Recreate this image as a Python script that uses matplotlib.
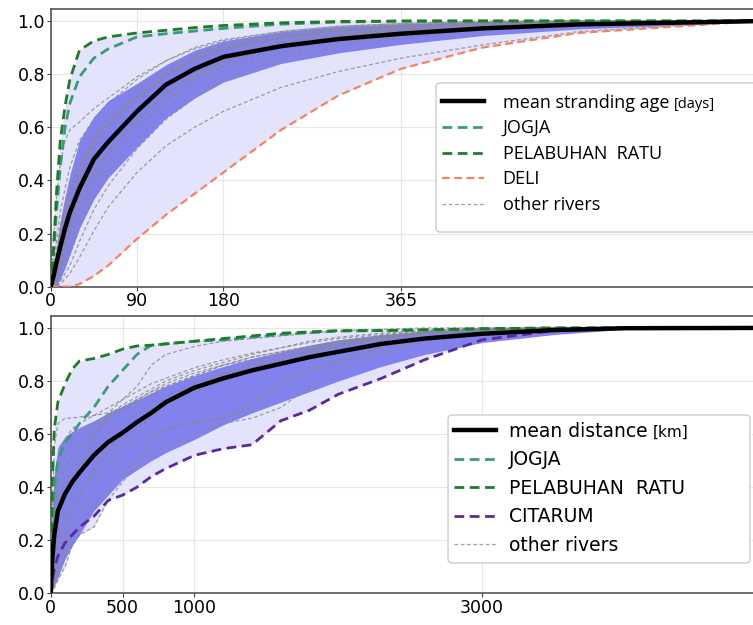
import numpy as np
import matplotlib.pyplot as plt
from matplotlib.patches import FancyBboxPatch

# ---- top panel: cumulative fraction vs stranding age [days]
days = [0, 3, 6, 10, 15, 20, 30, 45, 60, 90, 120, 150, 180, 240, 300, 365, 450, 550, 730]
age_mean = [0, .04, .09, .15, .22, .28, .37, .48, .545, .66, .76, .82, .865, .905, .932, .952, .972, .987, .999]
age_upper = [0, .07, .15, .25, .34, .42, .55, .64, .70, .765, .835, .89, .925, .96, .98, .99, .997, 1, 1]
age_lower = [0, 0, 0, .03, .07, .12, .22, .33, .41, .525, .635, .71, .77, .84, .88, .912, .945, .97, .995]
age_jogja = [0, .12, .28, .45, .60, .69, .79, .86, .895, .94, .952, .962, .972, .988, .996, .999, 1, 1, 1]
age_pelabuhan = [0, .15, .35, .55, .68, .78, .89, .925, .94, .955, .965, .975, .983, .993, .998, 1, 1, 1, 1]
age_deli = [0, 0, 0, 0, 0, 0, .01, .04, .08, .18, .27, .35, .43, .59, .72, .82, .90, .955, .998]
age_others = [
    [0, .18, .34, .46, .55, .59, .62, .67, .71, .79, .85, .895, .925, .96, .98, .99, 1, 1, 1],
    [0, .09, .17, .28, .37, .45, .55, .63, .69, .78, .85, .90, .93, .96, .98, .99, .997, 1, 1],
    [0, .06, .12, .20, .28, .35, .46, .57, .64, .74, .82, .87, .91, .95, .97, .985, .995, 1, 1],
    [0, .05, .10, .16, .23, .30, .40, .52, .60, .70, .79, .85, .89, .935, .96, .975, .99, .997, 1],
    [0, .03, .07, .13, .20, .26, .36, .47, .55, .67, .76, .82, .87, .92, .95, .97, .985, .995, 1],
    [0, .02, .05, .10, .16, .22, .32, .43, .51, .63, .73, .80, .85, .91, .94, .96, .98, .993, 1],
    [0, .01, .02, .06, .11, .16, .26, .38, .47, .60, .70, .78, .83, .90, .935, .955, .975, .99, 1],
    [0, 0, .01, .04, .08, .12, .22, .34, .43, .56, .67, .75, .81, .88, .92, .945, .97, .988, 1],
    [0, 0, 0, .02, .05, .08, .17, .29, .38, .52, .63, .71, .78, .86, .905, .935, .965, .985, 1],
    [0, 0, 0, .01, .03, .05, .11, .21, .30, .43, .53, .60, .66, .75, .81, .86, .91, .96, 1],
    [0, .02, .05, .11, .18, .24, .34, .46, .54, .66, .75, .81, .86, .915, .945, .965, .98, .992, 1],
    [0, .05, .10, .18, .26, .33, .43, .54, .61, .71, .80, .86, .90, .94, .965, .98, .993, 1, 1],
    [0, .02, .04, .08, .14, .19, .29, .41, .50, .62, .72, .79, .845, .905, .94, .96, .98, .993, 1],
    [0, .07, .13, .22, .30, .36, .45, .55, .62, .72, .80, .855, .895, .94, .965, .98, .993, 1, 1],
]

# ---- bottom panel: cumulative fraction vs distance [km]
km = [0, 10, 25, 50, 100, 150, 200, 300, 400, 500, 600, 700, 800, 1000, 1200, 1400, 1600, 1800, 2000, 2300, 2600, 3000, 3500, 4000, 4900]
dist_mean = [0, .12, .22, .31, .375, .42, .455, .52, .57, .605, .645, .68, .72, .775, .81, .84, .865, .89, .91, .94, .96, .978, .992, .999, 1]
dist_upper = [0, .30, .45, .55, .59, .61, .625, .65, .68, .705, .73, .755, .78, .82, .855, .885, .91, .935, .955, .975, .988, .996, 1, 1, 1]
dist_lower = [0, .01, .03, .06, .13, .18, .22, .31, .37, .43, .465, .50, .53, .58, .635, .68, .72, .76, .80, .855, .90, .945, .975, .995, 1]
dist_jogja = [0, .20, .40, .50, .57, .60, .64, .70, .78, .84, .90, .935, .94, .95, .955, .965, .975, .982, .988, .99, .993, .997, 1, 1, 1]
dist_pelabuhan = [0, .40, .62, .72, .79, .845, .875, .885, .90, .92, .932, .935, .94, .95, .96, .97, .98, .985, .99, .99, .993, .997, 1, 1, 1]
dist_citarum = [0, .04, .09, .14, .19, .22, .25, .29, .35, .37, .40, .44, .47, .52, .545, .56, .65, .69, .75, .81, .88, .955, .99, 1, 1]
dist_others = [
    [0, .30, .55, .64, .66, .66, .665, .67, .68, .70, .73, .76, .78, .82, .86, .89, .91, .93, .95, .97, .985, .995, 1, 1, 1],
    [0, .15, .35, .50, .58, .62, .64, .67, .70, .73, .76, .79, .81, .85, .88, .905, .925, .945, .96, .975, .99, .997, 1, 1, 1],
    [0, .10, .25, .38, .47, .52, .56, .62, .66, .70, .73, .76, .79, .83, .86, .89, .91, .93, .95, .97, .985, .995, 1, 1, 1],
    [0, .05, .15, .28, .38, .44, .48, .55, .60, .64, .68, .71, .74, .79, .83, .86, .89, .915, .94, .965, .98, .995, 1, 1, 1],
    [0, .02, .06, .12, .22, .30, .36, .46, .53, .58, .62, .66, .70, .76, .80, .84, .87, .90, .93, .955, .975, .99, 1, 1, 1],
    [0, .01, .03, .06, .14, .22, .24, .33, .40, .46, .50, .53, .55, .60, .64, .66, .70, .78, .84, .90, .95, .985, .998, 1, 1],
    [0, 0, .02, .05, .10, .18, .22, .25, .35, .42, .48, .58, .62, .65, .66, .72, .80, .85, .88, .93, .96, .985, .997, 1, 1],
    [0, .08, .20, .33, .42, .48, .53, .60, .65, .69, .72, .75, .78, .82, .86, .88, .90, .92, .94, .965, .985, .995, 1, 1, 1],
    [0, .05, .12, .20, .30, .37, .45, .58, .68, .73, .78, .86, .90, .93, .95, .96, .97, .98, .99, .995, 1, 1, 1, 1, 1],
    [0, .03, .08, .16, .26, .33, .38, .47, .55, .60, .65, .69, .72, .78, .82, .85, .88, .91, .935, .96, .98, .993, 1, 1, 1],
    [0, .12, .28, .42, .52, .57, .60, .64, .67, .71, .74, .77, .80, .84, .87, .90, .925, .95, .965, .98, .99, .998, 1, 1, 1],
    [0, .01, .04, .09, .17, .25, .30, .40, .48, .55, .58, .60, .62, .64, .66, .70, .78, .83, .87, .92, .96, .99, 1, 1, 1],
]

c_jogja = '#3a9a7a'
c_pel = '#1f7a2a'
c_deli = '#f4845f'
c_cit = '#5b2a9a'


def draw_panel(ax, x, mean, upper, lower, named, others, mean_label, xticks, xmax,
               legend_anchor, font, fsize, lspace, hlen, hpad, frame):
    allc = np.array([c for _, c, _ in named] + others)
    ax.fill_between(x, allc.min(axis=0), allc.max(axis=0), color='#e3e3fb', lw=0, zorder=1)
    ax.fill_between(x, lower, upper, color='#8282ef', lw=0, zorder=2)
    for i, o in enumerate(others):
        ax.plot(x, o, ls=(0, (3, 2)), color='#888888', lw=0.9, alpha=0.8, zorder=3,
                label='other rivers' if i == 0 else None)
    ax.plot(x, mean, color='black', lw=3.2, zorder=6, label=mean_label)
    for name, vals, col in named:
        lw = 1.6 if col == c_deli else 2.0
        ax.plot(x, vals, ls=(0, (3.5, 2)), color=col, lw=lw, zorder=5, label=name)

    handles, labels = ax.get_legend_handles_labels()
    order = [1] + list(range(2, len(labels))) + [0]
    leg = ax.legend([handles[i] for i in order], [labels[i] for i in order],
                    loc='upper left', bbox_to_anchor=legend_anchor, borderaxespad=0,
                    prop={'family': font, 'size': fsize}, labelspacing=lspace,
                    handlelength=hlen, handletextpad=hpad, borderpad=0, frameon=False)
    leg.set_zorder(11)

    # legend frame drawn by hand (the top one runs past the right edge)
    box = FancyBboxPatch(frame[:2], frame[2], frame[3], boxstyle='round,pad=0,rounding_size=0.006',
                         transform=ax.figure.transFigure, facecolor='white',
                         edgecolor='#cccccc', lw=1, zorder=10, clip_on=False)
    ax.add_patch(box)

    ax.set_xlim(0, xmax)
    ax.set_ylim(0, 1.045)
    ax.set_xticks(xticks)
    ax.set_yticks([0, 0.2, 0.4, 0.6, 0.8, 1.0])
    ax.set_yticklabels(['0.0', '0.2', '0.4', '0.6', '0.8', '1.0'])
    ax.tick_params(labelsize=12.5, length=3, color='#444444', pad=1)
    ax.grid(color='#e6e6e6', lw=0.8)
    ax.set_axisbelow(True)
    for s in ax.spines.values():
        s.set_color('#555555')
        s.set_linewidth(1.2)
    return leg


fig = plt.figure(figsize=(7.53, 6.25), dpi=100)
ax1 = fig.add_axes([0.0673, 0.5413, 0.9357, 0.4443])
ax2 = fig.add_axes([0.0673, 0.0507, 0.9357, 0.4437])

leg1 = draw_panel(ax1, days, age_mean, age_upper, age_lower,
                  [('JOGJA', age_jogja, c_jogja), ('PELABUHAN  RATU', age_pelabuhan, c_pel), ('DELI', age_deli, c_deli)],
                  age_others, 'mean stranding age', [0, 90, 180, 365], 734,
                  (0.5557, 0.695), 'Open Sans', 13, 0.42, 2.3, 1.05,
                  (0.579, 0.6288, 0.44, 0.2384))
leg2 = draw_panel(ax2, km, dist_mean, dist_upper, dist_lower,
                  [('JOGJA', dist_jogja, c_jogja), ('PELABUHAN  RATU', dist_pelabuhan, c_pel), ('CITARUM', dist_citarum, c_cit)],
                  dist_others, 'mean distance', [0, 500, 1000, 3000], 4900,
                  (0.5728, 0.6177), 'DejaVu Sans', 13.5, 0.5, 2.24, 0.7,
                  (0.595, 0.0992, 0.401, 0.2368))

# smaller unit text on the same baseline after the mean label
fig.canvas.draw()
r = fig.canvas.get_renderer()
inv = fig.transFigure.inverted()
for leg, unit, font, usize in [(leg1, '[days]', 'Open Sans', 10.5), (leg2, '[km]', 'DejaVu Sans', 11)]:
    bb = leg.get_texts()[0].get_window_extent(r)
    fp = leg.get_texts()[0].get_fontproperties()
    _, _, d = r.get_text_width_height_descent('lp', fp, ismath=False)
    x, y = inv.transform((bb.x1 + 5, bb.y0 + d))
    fig.text(x, y, unit, family=font, size=usize, va='baseline', zorder=20)

fig.savefig('out.png', dpi=100)
